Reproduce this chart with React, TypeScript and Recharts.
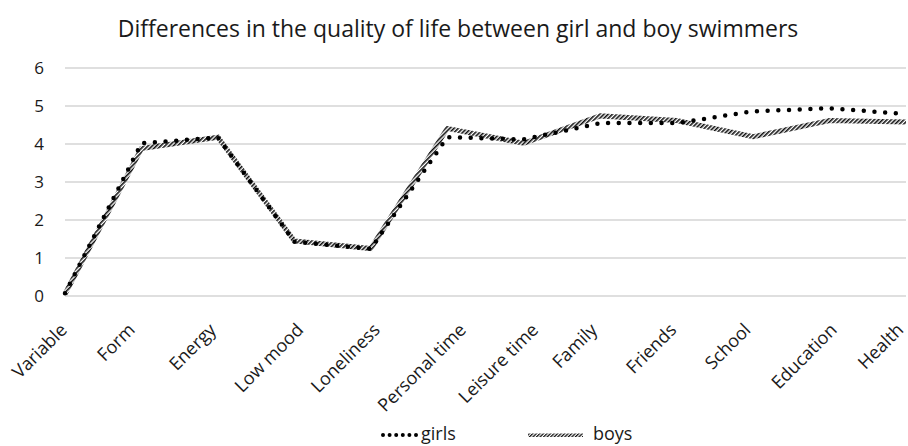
import { CartesianGrid, Legend, Line, LineChart, XAxis, YAxis } from "recharts"

const categories = ["Variable", "Form", "Energy", "Low mood", "Loneliness", "Personal time", "Leisure time", "Family", "Friends", "School", "Education", "Health"]
const girls = [0.07, 4.02, 4.17, 1.43, 1.24, 4.18, 4.12, 4.55, 4.55, 4.86, 4.94, 4.79]
const boys = [0.05, 3.88, 4.18, 1.45, 1.25, 4.41, 4.02, 4.74, 4.62, 4.19, 4.62, 4.58]
const yTicks = [0, 1, 2, 3, 4, 5, 6]

const FONT = "'Open Sans', sans-serif"
const LABEL_SIZE = 18

const data = categories.map((name, i) => ({ name, girls: girls[i], boys: boys[i] }))

// measure label width so rotated labels can be centred the way the original tool does it
let ctx: CanvasRenderingContext2D | null = null
function textWidth(s: string) {
  if (!ctx) ctx = document.createElement("canvas").getContext("2d")
  if (!ctx) return s.length * LABEL_SIZE * 0.5
  ctx.font = `${LABEL_SIZE}px 'Open Sans'`
  return ctx.measureText(s).width
}

function XTick({ x, payload }: any) {
  const w = textWidth(payload.value)
  const cx = x - 21
  const cy = 331 + 0.354 * w
  return (
    <text
      x={cx}
      y={cy}
      textAnchor="middle"
      transform={`rotate(-45, ${cx}, ${cy})`}
      fontSize={LABEL_SIZE}
      fontFamily={FONT}
      fill="#1a1a1a"
    >
      {payload.value}
    </text>
  )
}

function LegendBox() {
  return (
    <svg width={908} height={26} style={{ display: "block" }}>
      <defs>
        <pattern id="hatchLegend" patternUnits="userSpaceOnUse" width="2.5" height="2.5" patternTransform="rotate(45)">
          <rect width="2.5" height="2.5" fill="#fff" />
          <rect width="1.3" height="2.5" fill="#111" />
        </pattern>
      </defs>
      <line x1={383} y1={14} x2={416} y2={14} stroke="#000" strokeWidth={4} strokeLinecap="round" strokeDasharray="0 6.6" />
      <text x={421} y={19} fontSize={LABEL_SIZE} fontFamily={FONT} fill="#1a1a1a">girls</text>
      <rect x={528} y={12.5} width={55} height={3.5} fill="url(#hatchLegend)" />
      <text x={593} y={19} fontSize={LABEL_SIZE} fontFamily={FONT} fill="#1a1a1a">boys</text>
    </svg>
  )
}

export default function App() {
  return (
    <div style={{ position: "absolute", left: 0, top: 0, width: 908, height: 446, background: "#fff" }}>
      <div style={{ position: "absolute", top: 12, left: 4, width: 908, textAlign: "center", fontFamily: FONT, fontSize: 23, color: "#1a1a1a" }}>
        Differences in the quality of life between girl and boy swimmers
      </div>
      <LineChart width={908} height={446} data={data} margin={{ top: 68, right: 2, bottom: 0, left: 0 }}>
        <defs>
          <pattern id="hatch" patternUnits="userSpaceOnUse" width="3" height="3" patternTransform="rotate(45)">
            <rect width="3" height="3" fill="#fff" />
            <rect width="1.6" height="3" fill="#111" />
          </pattern>
        </defs>
        <CartesianGrid horizontal vertical={false} stroke="#bfbfbf" />
        <XAxis dataKey="name" axisLine={false} tickLine={false} height={150} interval={0} tick={<XTick />} />
        <YAxis
          domain={[0, 6]}
          ticks={yTicks}
          width={65}
          axisLine={false}
          tickLine={false}
          tickSize={6}
          tickMargin={15}
          tick={{ fill: "#1a1a1a", fontSize: 17, fontFamily: FONT }}
        />
        <Legend layout="horizontal" verticalAlign="middle" content={<LegendBox />} wrapperStyle={{ top: 421, left: 0, width: 908 }} />
        <Line dataKey="boys" stroke="url(#hatch)" strokeWidth={5} dot={false} activeDot={false} isAnimationActive={false} />
        <Line dataKey="girls" stroke="#000" strokeWidth={4.5} strokeLinecap="round" strokeDasharray="0 10.7" dot={false} activeDot={false} isAnimationActive={false} />
      </LineChart>
    </div>
  )
}
